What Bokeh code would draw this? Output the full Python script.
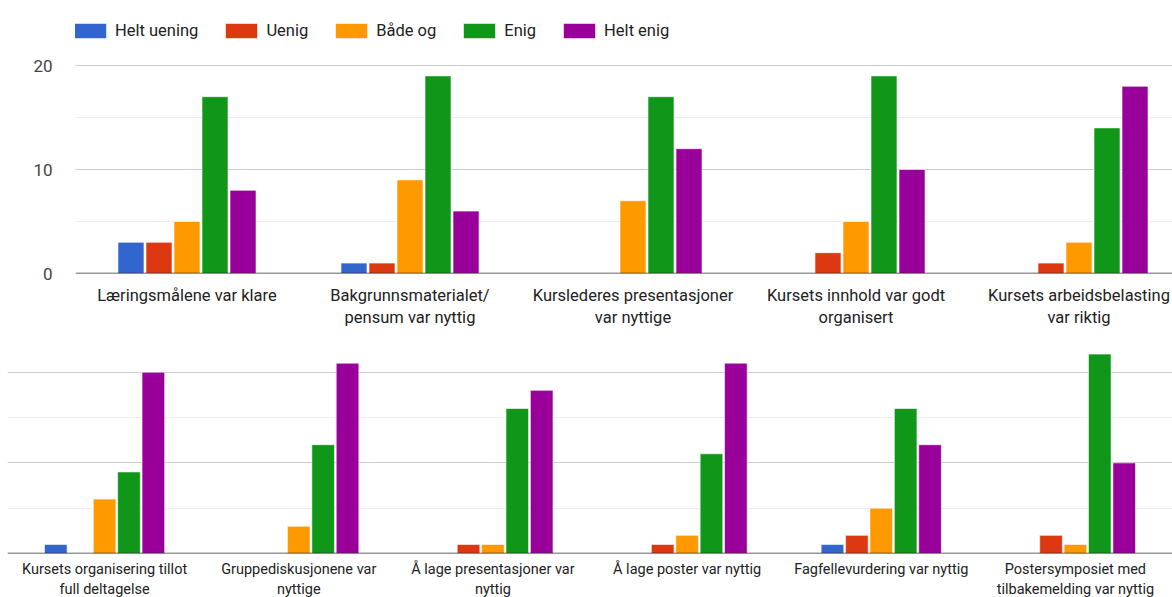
from bokeh.plotting import figure
from bokeh.models import Range1d, FixedTicker, Span, Grid, Legend, LegendItem, ColumnDataSource
from bokeh.embed import file_html
from bokeh.resources import INLINE

series = ["Helt uening", "Uenig", "Både og", "Enig", "Helt enig"]
colors = ["#3366cc", "#dc3912", "#ff9900", "#109618", "#990099"]

top_categories = [
    "Læringsmålene var klare",
    "Bakgrunnsmaterialet/\npensum var nyttig",
    "Kurslederes presentasjoner\nvar nyttige",
    "Kursets innhold var godt\norganisert",
    "Kursets arbeidsbelasting\nvar riktig",
]
top_helt_uening = [3, 1, 0, 0, 0]
top_uenig = [3, 1, 0, 2, 1]
top_bade_og = [5, 9, 7, 5, 3]
top_enig = [17, 19, 17, 19, 14]
top_helt_enig = [8, 6, 12, 10, 18]

bottom_categories = [
    "Kursets organisering tillot\nfull deltagelse",
    "Gruppediskusjonene var\nnyttige",
    "Å lage presentasjoner var\nnyttig",
    "Å lage poster var nyttig",
    "Fagfellevurdering var nyttig",
    "Postersymposiet med\ntilbakemelding var nyttig",
]
bottom_helt_uening = [1, 0, 0, 0, 1, 0]
bottom_uenig = [0, 0, 1, 1, 2, 2]
bottom_bade_og = [6, 3, 1, 2, 5, 1]
bottom_enig = [9, 12, 16, 11, 16, 22]
bottom_helt_enig = [20, 21, 18, 21, 12, 10]

FONT = "Roboto"
TEXT = "#222222"


def make_panel(cats, data, width, height, left, top_b, bottom_b, xend, yend,
               show_y, legend, label_size, standoff):
    p = figure(width=width, height=height, output_backend="svg",
               toolbar_location=None, x_range=Range1d(0, xend),
               y_range=Range1d(0, yend), min_border_left=left,
               min_border_right=0, min_border_top=top_b,
               min_border_bottom=bottom_b,
               y_axis_location="left" if show_y else None)
    p.outline_line_color = None
    p.background_fill_color = None
    p.border_fill_color = "white"
    p.xgrid.visible = False
    major = Grid(dimension=1, ticker=FixedTicker(ticks=[10, 20]),
                 grid_line_color="#cccccc", grid_line_width=1)
    minor = Grid(dimension=1, ticker=FixedTicker(ticks=[5, 15, 25]),
                 grid_line_color="#ebebeb", grid_line_width=1)
    p.add_layout(minor)
    p.add_layout(major)

    step = 0.1256
    bw = 0.1166
    renderers = []
    for k, (name, vals) in enumerate(zip(series, data)):
        xs = [i + 0.5 + (k - 2) * step for i, v in enumerate(vals) if v > 0]
        ys = [v for v in vals if v > 0]
        src = ColumnDataSource(dict(x=xs, top=ys))
        r = p.vbar(x="x", top="top", width=bw, source=src,
                   fill_color=colors[k], line_color="white", line_width=0.6)
        renderers.append((name, r))

    p.add_layout(Span(location=0, dimension="width", line_color="#333333",
                      line_width=1.3))

    p.xaxis.ticker = FixedTicker(ticks=[i + 0.5 for i in range(len(cats))])
    p.xaxis.major_label_overrides = {i + 0.5: c for i, c in enumerate(cats)}
    p.xaxis.axis_line_color = None
    p.xaxis.major_tick_line_color = None
    p.xaxis.minor_tick_line_color = None
    p.xaxis.major_label_text_font = FONT
    p.xaxis.major_label_text_font_size = label_size
    p.xaxis.major_label_text_color = TEXT
    p.xaxis.major_label_standoff = standoff

    if show_y:
        p.yaxis.ticker = FixedTicker(ticks=[0, 10, 20])
        p.yaxis.axis_line_color = None
        p.yaxis.major_tick_line_color = None
        p.yaxis.minor_tick_line_color = None
        p.yaxis.major_label_text_font = FONT
        p.yaxis.major_label_text_font_size = "17px"
        p.yaxis.major_label_text_color = "#444444"
        p.yaxis.major_label_standoff = 17

    if legend:
        items = [LegendItem(label=n, renderers=[r]) for n, r in renderers]
        lg = Legend(items=items, orientation="horizontal", location=(-5, 233),
                    glyph_width=40, glyph_height=19, label_standoff=5,
                    spacing=23, padding=0, margin=0,
                    border_line_color=None, background_fill_alpha=0,
                    label_text_font=FONT, label_text_font_size="16.5px",
                    label_text_color=TEXT)
        p.add_layout(lg, "center")
    return p


top = make_panel(top_categories,
                 [top_helt_uening, top_uenig, top_bade_og, top_enig, top_helt_enig],
                 width=1172, height=335, left=75, top_b=13, bottom_b=62,
                 xend=(1172 - 75) / 223.0, yend=25, show_y=True, legend=True,
                 label_size="16.5px", standoff=6)
bottom = make_panel(bottom_categories,
                    [bottom_helt_uening, bottom_uenig, bottom_bade_og,
                     bottom_enig, bottom_helt_enig],
                    width=1172, height=265, left=7, top_b=5, bottom_b=44,
                    xend=6.0, yend=23.5, show_y=False, legend=False,
                    label_size="14.5px", standoff=1)

# Two independent roots, stacked, so that their frames are not aligned
html = file_html([top, bottom], INLINE)
open("out.html", "w").write(html)
